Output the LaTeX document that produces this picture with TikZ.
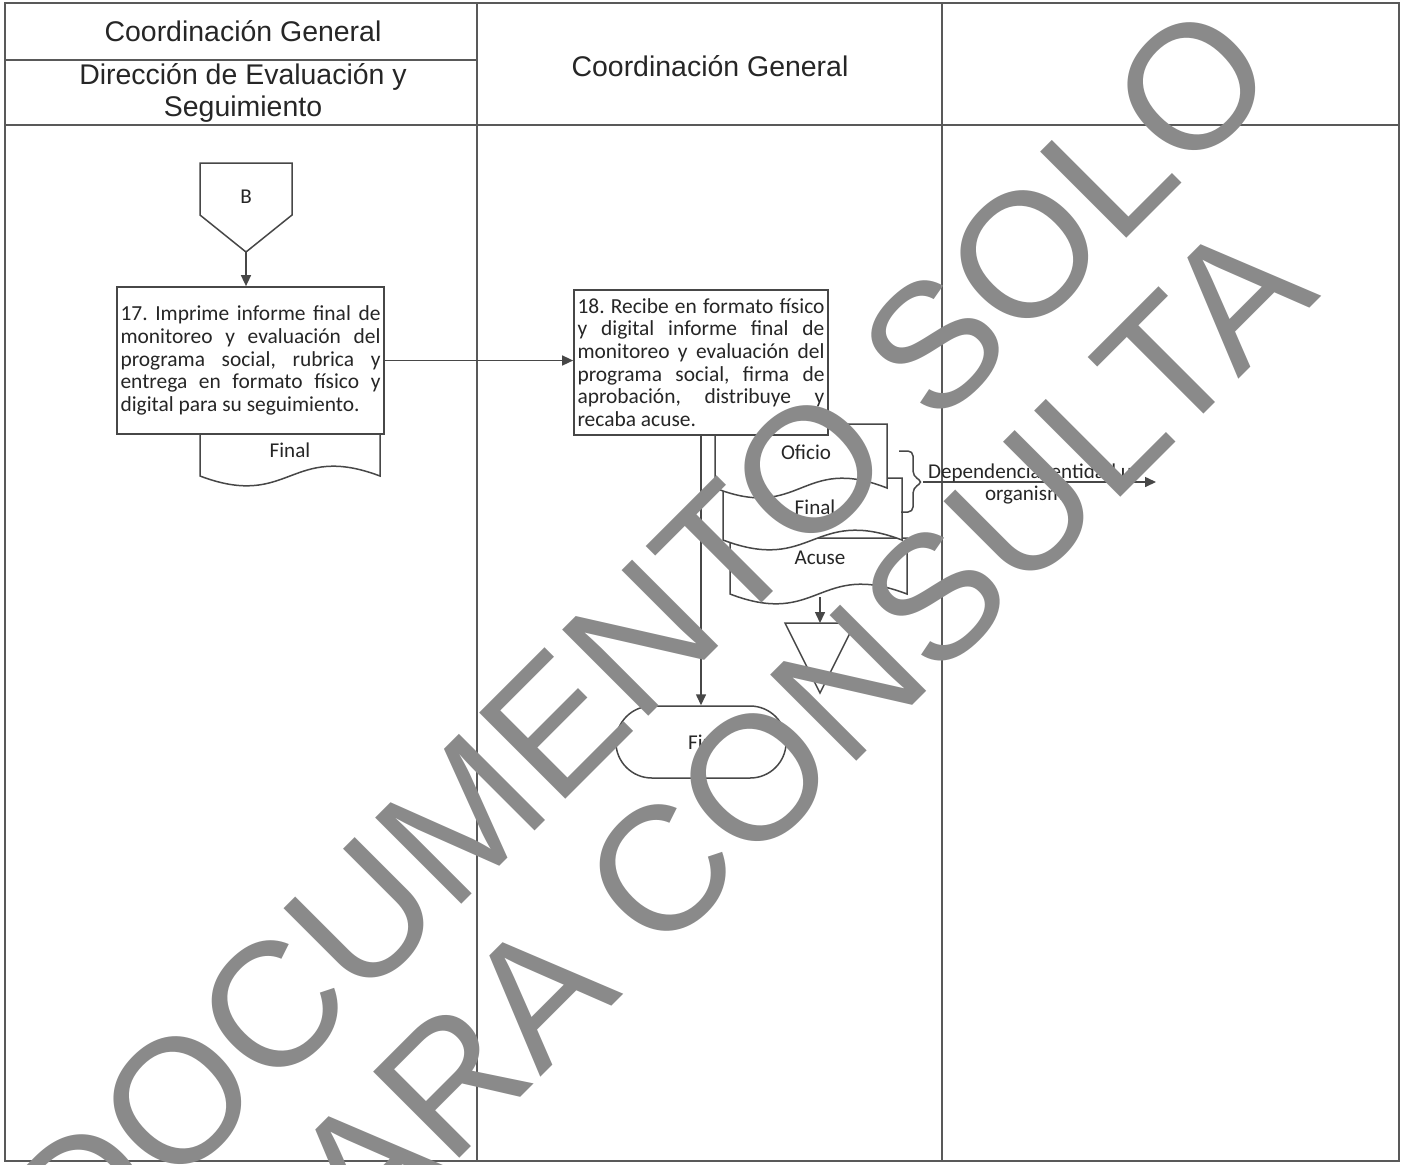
\documentclass[tikz,border=0pt]{standalone}
\usepackage{fontspec}
\setmainfont{Carlito}
\newfontfamily\hdrfont{Liberation Sans}
\usetikzlibrary{arrows.meta,shapes.misc}
\definecolor{linegray}{gray}{0.28}
\definecolor{framegray}{gray}{0.35}
\definecolor{txtgray}{gray}{0.15}
\definecolor{markgray}{gray}{0.54}
% document shape: left x, right x, top y, bottom y
\newcommand{\docu}[4]{\pgfmathsetmacro{\xmid}{(#1+#2)/2}
  \filldraw[docline] (#1,#3) -- (#2,#3) -- (#2,#4) .. controls (\xmid,#4-34) and (\xmid,#4+34) .. (#1,#4) -- cycle;}
\tikzset{
  frame/.style={draw=framegray, line width=0.04cm},
  docline/.style={draw=linegray, fill=white, line width=0.03cm},
  stepbox/.style={draw=linegray, fill=white, line width=0.035cm, align=justify,
    inner sep=0.07cm, text=txtgray, font=\fontsize{12.2}{12.9}\selectfont},
  arr/.style={draw=linegray, line width=0.03cm, -{Triangle[length=0.22cm,width=0.2cm]}},
  hdr/.style={font=\hdrfont\fontsize{16.2}{18.2}\selectfont, text=txtgray, align=center},
  lbl/.style={font=\fontsize{12}{13}\selectfont, text=txtgray, align=center},
  wmark/.style={font=\hdrfont\fontsize{100.8}{100.8}\selectfont, text=markgray, inner sep=0pt},
}

\begin{document}
\frenchspacing
\begin{tikzpicture}[x=0.02cm, y=-0.02cm]
        \useasboundingbox (0,0) rectangle (1408,1164);
        % lanes
        \draw[frame] (5,3) rectangle (1399,1161);
        \draw[frame] (477,3) -- (477,1161);
        \draw[frame] (942,3) -- (942,1161);
        \draw[frame] (5,125) -- (1399,125);
        \draw[frame] (5,60) -- (477,60);
        \node[hdr] (hdrA) at (243,31) {Coordinación General};
        \node[hdr] (hdrB) at (243,93) {Dirección de Evaluación y\\Seguimiento};
        \node[hdr] (hdrC) at (710,66) {Coordinación General};
        % connector B
        \filldraw[docline] (200,163) -- (292,163) -- (292,215) -- (246,252) -- (200,215) -- cycle;
        \node[lbl] (conB) at (246,197) {B};
        \coordinate (conBtip) at (246,252);
        % step 17
        \docu{200}{380}{424}{476}
        \node[lbl] (docFinalA) at (290,450) {Final};
        \node[stepbox, text width=5.2cm, minimum width=5.34cm, minimum height=2.94cm] (b17) at (250.5,360.5)
          {17. Imprime informe final de\linebreak monitoreo y evaluación del\linebreak programa social, rubrica y\linebreak entrega en formato físico y\linebreak digital para su seguimiento.};
        \draw[arr] (conBtip) -- (conBtip |- b17.north);
        % step 18
        \docu{730}{907}{538}{594}
        \node[lbl] (docAcuse) at (820,558) {Acuse};
        \docu{723}{902}{478}{540}
        \node[lbl] (docFinalB) at (815,507) {Final};
        \docu{715}{887}{424}{488}
        \node[lbl] (docOficio) at (806,452) {Oficio};
        \node[stepbox, text width=4.94cm, minimum width=5.08cm, minimum height=2.9cm] (b18) at (701,362.5)
          {18. Recibe en formato físico\linebreak y digital informe final de\linebreak monitoreo y evaluación del\linebreak programa social, firma de\linebreak aprobación, distribuye y\linebreak recaba acuse.};
        \draw[arr] (b17.east) -- (b17.east -| b18.west);
        % brace to destination
        \draw[linegray, line width=0.03cm, rounded corners=0.1cm] (899,451) -- (913,451) -- (913,476) -- (923,482) -- (913,488) -- (913,512) -- (901,512);
        \coordinate (brtip) at (923,482);
        \coordinate (destend) at (1156,482);
        \draw[arr] (brtip) -- (destend);
        \node[lbl] (dest) at (1030,484) {Dependencia, entidad u\\organismo};
        % archive and end
        \draw[docline] (785,623) -- (855,623) -- (820,693) -- cycle;
        \coordinate (archtop) at (820,623);
        \coordinate (acusebot) at (820,597);
        \draw[arr] (acusebot) -- (archtop);
        \node[draw=linegray, line width=0.03cm, rounded rectangle, minimum width=3.64cm, minimum height=1.44cm, lbl] (fin) at (701,742) {Fin};
        \draw[arr] (b18.south -| fin.north) -- (fin.north);
        % watermark
        \node[wmark, rotate=45] (markA) at (640,639) {DOCUMENTO SOLO};
        \node[wmark, rotate=45] (markB) at (764,768) {PARA CONSULTA};
\end{tikzpicture}
\end{document}
